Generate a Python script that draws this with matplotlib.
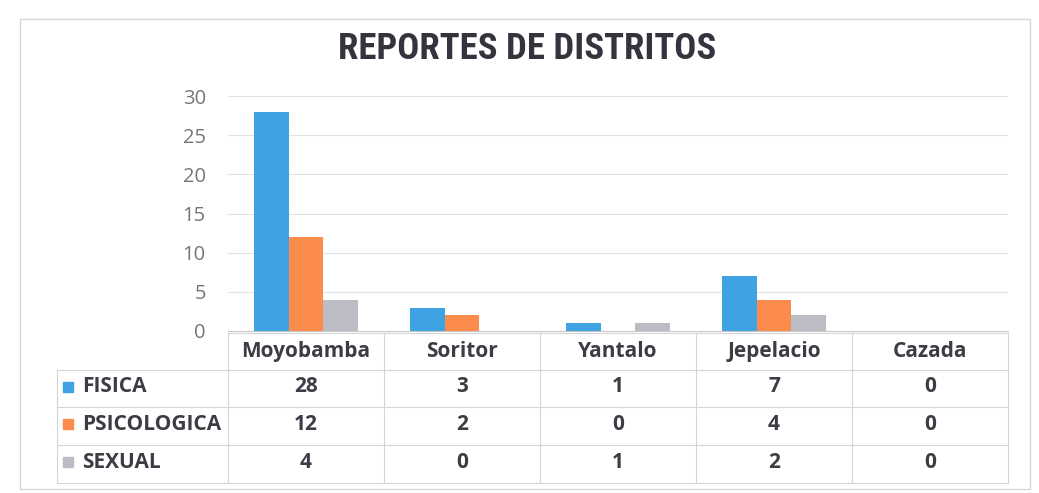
import matplotlib
matplotlib.use("Agg")
import matplotlib.pyplot as plt
from matplotlib.patches import Rectangle
import numpy as np

# === DATA ===
distritos = ["Moyobamba", "Soritor", "Yantalo", "Jepelacio", "Cazada"]
series = ["FISICA", "PSICOLOGICA", "SEXUAL"]
fisica = [28, 3, 1, 7, 0]
psicologica = [12, 2, 0, 4, 0]
sexual = [4, 0, 1, 2, 0]
colores = ["#3fa2e2", "#fb8c4c", "#bcbcc4"]
y_ticks = [0, 5, 10, 15, 20, 25, 30]

valores = [fisica, psicologica, sexual]

fig = plt.figure(figsize=(10.39, 4.93), dpi=100)
ax = fig.add_axes([228 / 1039, 1 - 331 / 493, 780 / 1039, 235 / 493])

# === BARS ===
x = np.arange(len(distritos))
w = 0.224
for i, (vals, c) in enumerate(zip(valores, colores)):
    ax.bar(x + (i - 1) * w, vals, width=w, color=c, zorder=3)

ax.set_xlim(-0.5, len(distritos) - 0.5)
ax.set_ylim(0, 30)
ax.set_yticks(y_ticks)
ax.tick_params(axis="y", length=0, pad=16, labelsize=14.5, labelcolor="#767676")
ax.set_xticks([])
ax.grid(axis="y", color="#e2e2e2", linewidth=0.8, zorder=0)
for s in ["top", "right", "left"]:
    ax.spines[s].set_visible(False)
ax.spines["bottom"].set_color("#c8c8c8")
ax.spines["bottom"].set_linewidth(0.8)
for lbl in ax.get_yticklabels():
    lbl.set_family("Open Sans")

# === DATA TABLE (drawn below the axes) ===
tr = ax.get_xaxis_transform()
px = 1 / 235  # one pixel in axes-y units
row_edges = [-2 * px, -39 * px, -76 * px, -114 * px, -152 * px]
lab_left = -0.5 - 171 / 156
grid_kw = dict(color="#d6d6d6", linewidth=0.8, transform=tr, clip_on=False)

# horizontal lines
ax.plot([-0.5, len(distritos) - 0.5], [row_edges[0]] * 2, **grid_kw)
for yy in row_edges[1:]:
    ax.plot([lab_left, len(distritos) - 0.5], [yy, yy], **grid_kw)
# vertical lines
for xx in np.arange(-0.5, len(distritos), 1.0):
    ax.plot([xx, xx], [row_edges[0], row_edges[-1]], **grid_kw)
ax.plot([lab_left, lab_left], [row_edges[1], row_edges[-1]], **grid_kw)

tfont = dict(family="Open Sans", weight="bold", fontsize=15, color="#3c3c44",
             transform=tr, ha="center", va="center", clip_on=False)
hdr_y = (row_edges[0] + row_edges[1]) / 2
for i, d in enumerate(distritos):
    ax.text(i, hdr_y, d, **tfont)

for r, (name, vals, c) in enumerate(zip(series, valores, colores)):
    yc = (row_edges[r + 1] + row_edges[r + 2]) / 2 + 2 * px
    for i, v in enumerate(vals):
        ax.text(i, yc, str(v), **tfont)
    ax.add_patch(Rectangle((lab_left + 6 / 156, yc - 5 * px), 10 / 156, 10 * px,
                           color=c, transform=tr, clip_on=False))
    lab = dict(tfont)
    lab["ha"] = "left"
    ax.text(lab_left + 25 / 156, yc, name, **lab)

# === TITLE & FRAME ===
fig.text(527 / 1039, 1 - 49 / 493, "REPORTES DE DISTRITOS",
         family=["Liberation Sans Narrow", "Roboto Condensed", "Roboto"],
         weight="bold", fontsize=26.5, color="#33343e", ha="center", va="center")
fig.patches.append(Rectangle((20 / 1039, 4 / 493), 1010 / 1039, 470 / 493,
                             transform=fig.transFigure, fill=False,
                             edgecolor="#d8d8d8", linewidth=1))

fig.savefig("out.png", dpi=100)
